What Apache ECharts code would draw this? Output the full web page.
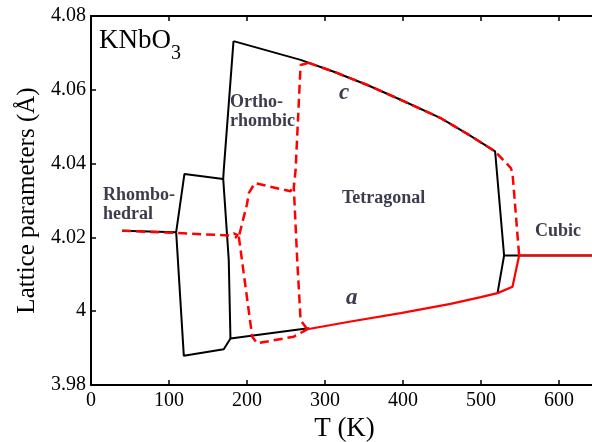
<!DOCTYPE html>
<html>
<head>
<meta charset="utf-8">
<script src="https://cdn.jsdelivr.net/npm/echarts@6/dist/echarts.min.js"></script>
<style>
html,body{margin:0;padding:0;background:#fff;}
#chart{width:592px;height:442px;}
</style>
</head>
<body>
<div id="chart"></div>
<script>
// ---- data: [T (K), lattice parameter (Å)] ----
var xTicks = [0, 100, 200, 300, 400, 500, 600];
var yTicks = [3.98, 4.00, 4.02, 4.04, 4.06, 4.08];

// black solid lines
var blackRhombo = [[40, 4.0218], [109.2, 4.0214]];
var blackOrthoUpper = [[109.2, 4.0214], [119.8, 4.0372], [169.5, 4.0358]];
var blackOrthoLower = [[109.2, 4.0214], [119, 3.9879], [170.2, 3.9897], [178.8, 3.9926], [268.7, 3.9951], [280, 3.9954]];
var blackOrthoTetra = [[182.7, 4.0732], [170.2, 4.0383], [169.5, 4.0359], [176.6, 4.0139], [178.8, 3.9926]];
var blackC = [[182.7, 4.0732], [268.7, 4.0681], [311.4, 4.0649], [354.3, 4.0613], [397, 4.0573], [448.4, 4.0523], [483, 4.048], [518.1, 4.0433], [529.6, 4.0151], [521.2, 4.0049]];
var blackCubic = [[529.6, 4.0151], [650, 4.0151]];

// red dashed lines
var redRhomboOrtho = [[40, 4.0218], [110, 4.0212], [178, 4.0205], [183, 4.0211], [188, 4.0206], [185, 4.0199], [189.5, 4.0202], [200, 4.029], [202.3, 4.032], [210, 4.0347], [255.8, 4.0325], [260, 4.0345]];
var redOrthoLow = [[189.5, 4.0202], [206.7, 3.9931], [213, 3.9913], [260, 3.9931], [277.3, 3.9951]];
var redOrthoRight = [[279, 4.0673], [268.7, 4.0667], [262.3, 4.0382], [260, 4.0335], [264.4, 4.0138], [268.7, 3.9976], [277.3, 3.9951]];
var redC = [[279, 4.0673], [311.4, 4.0649], [354.3, 4.0613], [397, 4.0573], [448.4, 4.0523], [483, 4.048], [518.1, 4.0433], [538.3, 4.0388], [540.4, 4.0374], [548.9, 4.0151]];

// red solid line
var redA = [[277.3, 3.9951], [332.9, 3.9972], [397, 3.9995], [461, 4.002], [499.7, 4.0038], [521.2, 4.0049], [540.4, 4.0066], [548.9, 4.0151], [650, 4.0151]];

var SERIF = '"Liberation Serif", "DejaVu Serif", serif';
var LABEL_COLOR = '#3c3c4c';

function line(data, color, width, dashed, z) {
  return {
    type: 'line', data: data, symbol: 'none', smooth: false, z: z,
    lineStyle: { color: color, width: width, type: dashed ? [9, 5] : 'solid' },
    animation: false, silent: true
  };
}

var chart = echarts.init(document.getElementById('chart'), null, { renderer: 'canvas' });
chart.setOption({
  backgroundColor: '#ffffff',
  animation: false,
  grid: { left: 91, top: 16, right: -6, bottom: 57, containLabel: false, outerBoundsMode: 'none' },
  xAxis: [{
    type: 'value', min: 0, max: 650, interval: 100, position: 'bottom',
    name: 'T (K)', nameLocation: 'middle', nameGap: 24,
    nameTextStyle: { fontFamily: SERIF, fontSize: 27, color: '#000' },
    axisLine: { show: true, onZero: false, lineStyle: { color: '#000', width: 2 } },
    axisTick: { show: true, inside: true, length: 5, lineStyle: { color: '#000', width: 1.5 } },
    axisLabel: { fontFamily: SERIF, fontSize: 20, color: '#000', margin: 6,
      formatter: function (v) { return xTicks.indexOf(v) >= 0 ? String(v) : ''; } },
    splitLine: { show: false }
  }, {
    type: 'value', min: 0, max: 650, interval: 100, position: 'top',
    axisLine: { show: true, onZero: false, lineStyle: { color: '#000', width: 2 } },
    axisTick: { show: true, inside: true, length: 5, lineStyle: { color: '#000', width: 1.5 } },
    axisLabel: { show: false }, splitLine: { show: false }
  }],
  yAxis: {
    type: 'value', min: 3.98, max: 4.08, interval: 0.02,
    name: 'Lattice parameters (Å)', nameLocation: 'middle', nameGap: 50, nameRotate: 90,
    nameTextStyle: { fontFamily: SERIF, fontSize: 25, color: '#000' },
    axisLine: { show: true, onZero: false, lineStyle: { color: '#000', width: 2 } },
    axisTick: { show: true, inside: true, length: 5, lineStyle: { color: '#000', width: 1.5 } },
    axisLabel: { fontFamily: SERIF, fontSize: 20, color: '#000', margin: 5,
      formatter: function (v) {
        for (var i = 0; i < yTicks.length; i++) {
          if (Math.abs(yTicks[i] - v) < 1e-9) {
            return Math.abs(v - 4) < 1e-9 ? '4' : v.toFixed(2);
          }
        }
        return '';
      } },
    splitLine: { show: false }
  },
  series: [
    line(blackRhombo, '#000', 2, false, 2),
    line(blackOrthoUpper, '#000', 2, false, 2),
    line(blackOrthoLower, '#000', 2, false, 2),
    line(blackOrthoTetra, '#000', 2, false, 2),
    line(blackC, '#000', 2, false, 2),
    line(blackCubic, '#000', 2, false, 2),
    line(redRhomboOrtho, '#ff0000', 2.5, true, 3),
    line(redOrthoLow, '#ff0000', 2.5, true, 3),
    line(redOrthoRight, '#ff0000', 2.5, true, 3),
    line(redC, '#ff0000', 2.5, true, 3),
    line(redA, '#ff0000', 2.2, false, 3)
  ],
  graphic: [
    { type: 'text', left: 99, top: 27, z: 10, style: { text: 'KNbO', font: '27px ' + SERIF, fill: '#000' } },
    { type: 'text', left: 171, top: 44, z: 10, style: { text: '3', font: '20px ' + SERIF, fill: '#000' } },
    { type: 'text', left: 103, top: 186, z: 10, style: { text: 'Rhombo-\nhedral', font: 'bold 18px ' + SERIF, fill: LABEL_COLOR, lineHeight: 19 } },
    { type: 'text', left: 230, top: 93, z: 10, style: { text: 'Ortho-\nrhombic', font: 'bold 18px ' + SERIF, fill: LABEL_COLOR, lineHeight: 19 } },
    { type: 'text', left: 342, top: 189, z: 10, style: { text: 'Tetragonal', font: 'bold 18px ' + SERIF, fill: LABEL_COLOR } },
    { type: 'text', left: 535, top: 222, z: 10, style: { text: 'Cubic', font: 'bold 18px ' + SERIF, fill: LABEL_COLOR } },
    { type: 'text', left: 339, top: 82, z: 10, style: { text: 'c', font: 'italic bold 23px ' + SERIF, fill: LABEL_COLOR } },
    { type: 'text', left: 346, top: 287, z: 10, style: { text: 'a', font: 'italic bold 23px ' + SERIF, fill: LABEL_COLOR } }
  ]
});
</script>
</body>
</html>
